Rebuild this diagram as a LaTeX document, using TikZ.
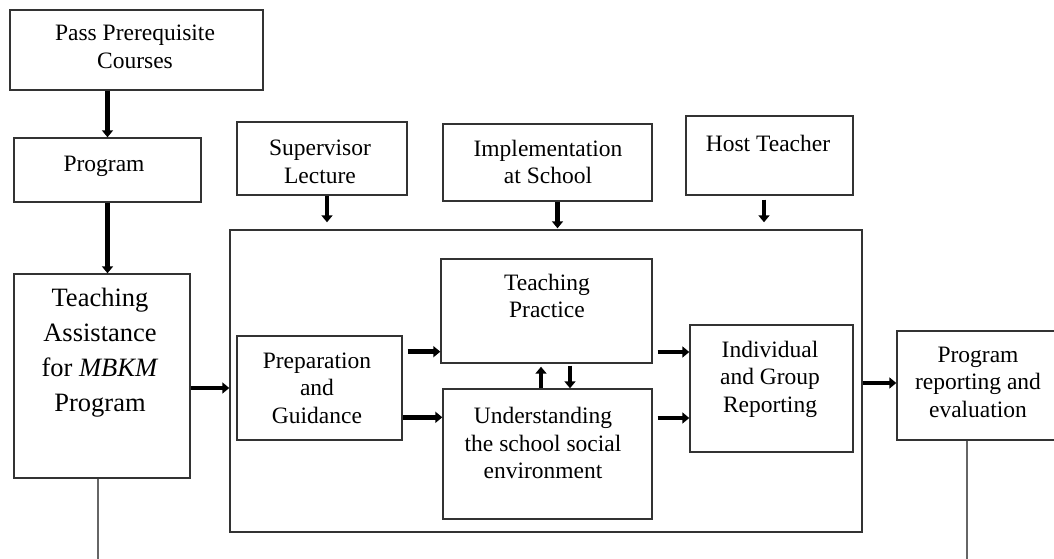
\documentclass[tikz,border=0pt]{standalone}
\usepackage{fontspec}
\setmainfont{Liberation Serif}
\usetikzlibrary{arrows.meta,calc}
\begin{document}
\begin{tikzpicture}[x=1pt,y=-1pt,
  box/.style={draw=black!80, line width=1.4pt, rectangle, inner sep=0pt},
  txt/.style={align=center, inner sep=0pt, font=\fontsize{23.5pt}{27.5pt}\selectfont},
  bigtxt/.style={align=center, inner sep=0pt, font=\fontsize{26.5pt}{35pt}\selectfont},
  arr/.style={line width=4.5pt, -{Triangle[length=7pt,width=11pt]}},
  thin/.style={draw=black!60, line width=1.2pt}]
\useasboundingbox (0,0) rectangle (1054,559);
\clip (0,0) rectangle (1054,559);
% boxes
\node[box, minimum width=253, minimum height=80] (pass) at (136.5,50) {};
\node[box, minimum width=187, minimum height=64] (prog) at (107.5,170) {};
\node[box, minimum width=176, minimum height=204] (ta) at (102,376) {};
\node[box, minimum width=170, minimum height=73] (sup) at (322,158.5) {};
\node[box, minimum width=209, minimum height=77] (impl) at (547.5,162.5) {};
\node[box, minimum width=167, minimum height=79] (host) at (769.5,155.5) {};
\node[box, minimum width=632, minimum height=302] (big) at (546,381) {};
\node[box, minimum width=211, minimum height=104] (tp) at (546.5,311) {};
\node[box, minimum width=209, minimum height=130] (und) at (547.5,454) {};
\node[box, minimum width=165, minimum height=104] (prep) at (319.5,388) {};
\node[box, minimum width=163, minimum height=127] (ind) at (771.5,388.5) {};
\node[box, minimum width=173, minimum height=109] (rep) at (983.5,385.5) {};
% texts
\node[txt] (passt) at (135,47) {Pass Prerequisite\\Courses};
\node[txt] (progt) at (104,166) {Program};
\node[bigtxt] (tat) at (100,353) {Teaching\\Assistance\\for \textit{MBKM}\\Program};
\node[txt] (supt) at (320,162) {Supervisor\\Lecture};
\node[txt] (implt) at (548,162) {Implementation\\at School};
\node[txt] (hostt) at (768,143) {Host Teacher};
\node[txt] (tpt) at (547,296) {Teaching\\Practice};
\node[txt] (prept) at (317,388) {Preparation\\and\\Guidance};
\node[txt] (undt) at (543,443) {Understanding\\the school social\\environment};
\node[txt] (indt) at (770,379) {Individual\\and Group\\Reporting};
\node[txt] (rept) at (978,382) {Program\\reporting and\\evaluation};
% free ends
\coordinate (taend) at (98,559);
\coordinate (repend) at (967,559);
% arrows
\draw[arr] (prog.north |- pass.south) -- (prog.north);
\draw[arr] (prog.south) -- (prog.south |- ta.north);
\draw[arr] ([yshift=-12pt]ta.east) -- ([yshift=-12pt]ta.east -| big.west);
\draw[arr, shorten >=7pt] ([xshift=5pt]sup.south) -- ([xshift=5pt]sup.south |- big.north);
\draw[arr, shorten >=1pt] ([xshift=10pt]impl.south) -- ([xshift=10pt]impl.south |- big.north);
\draw[arr, shorten <=4pt, shorten >=7pt] ([xshift=-5.5pt]host.south) -- ([xshift=-5.5pt]host.south |- big.north);
\draw[arr, shorten <=5pt] ([yshift=12pt]tp.south west -| prep.east) -- ([yshift=12pt]tp.south west);
\draw[arr] ([yshift=-29pt]und.north west -| prep.east) -- ([yshift=-29pt]und.north west);
\draw[arr, shorten >=3pt] ([xshift=-6.5pt]und.north) -- ([xshift=-6.5pt]und.north |- tp.south);
\draw[arr, shorten <=2pt] ([xshift=23.5pt]tp.south) -- ([xshift=23.5pt]tp.south |- und.north);
\draw[arr, shorten <=5pt] ([yshift=36.5pt]ind.west -| tp.east) -- ([yshift=36.5pt]ind.west);
\draw[arr, shorten <=5pt] ([yshift=-29.5pt]ind.west -| und.east) -- ([yshift=-29.5pt]ind.west);
\draw[arr] ([yshift=2.5pt]rep.west -| big.east) -- ([yshift=2.5pt]rep.west);
\draw[thin] ([xshift=-4pt]ta.south) -- (taend);
\draw[thin] (repend |- rep.south) -- (repend);
\end{tikzpicture}
\end{document}
